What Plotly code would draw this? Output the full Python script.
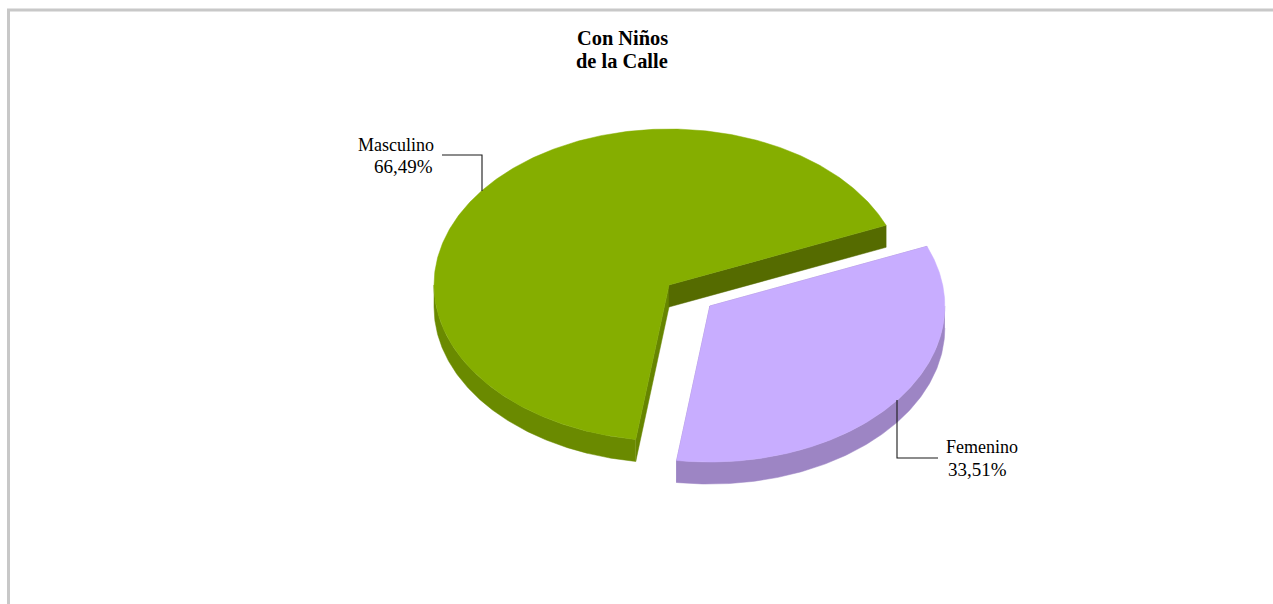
import numpy as np
import plotly.graph_objects as go

categories = ["Femenino", "Masculino"]
values = [33.51, 66.49]
labels = ["33,51%", "66,49%"]
exploded = [0.22, 0.0]
top_colors = ["#C8ADFF", "#85AE00"]
wall_colors = ["#9D85C4", "#6A8A00"]
end_cut_colors = ["#9D85C4", "#556B00"]
start_cut_colors = ["#9D85C4", "#668500"]
title_lines = ["Con Niños", "de la Calle"]

FIRST_ANGLE = 67.5
CX, CY, RX, RY, DEPTH = 669.0, 285.0, 235.0, 156.0, 22.0


def pt(theta, ox, oy, r=1.0):
    t = np.radians(theta)
    return ox + r * RX * np.sin(t), oy - r * RY * np.cos(t)


def poly(xs, ys, color):
    return go.Scatter(x=xs, y=ys, mode="lines", fill="toself", fillcolor=color,
                      line=dict(color=color, width=0.5), hoverinfo="skip", showlegend=False)


fig = go.Figure()
total = sum(values)
start = FIRST_ANGLE
slices = []
for i, v in enumerate(values):
    sweep = 360 * v / total
    mid = start + sweep / 2
    ox, oy = pt(mid, CX, CY, exploded[i])
    slices.append((i, start, start + sweep, ox, oy))
    start += sweep

# Masculino first, Femenino over it
for i, a0, a1, ox, oy in reversed(slices):
    ex, ey = pt(a0, ox, oy)
    fig.add_trace(poly([ox, ex, ex, ox, ox], [oy, ey, ey + DEPTH, oy + DEPTH, oy], start_cut_colors[i]))
    ex, ey = pt(a1, ox, oy)
    fig.add_trace(poly([ox, ex, ex, ox, ox], [oy, ey, ey + DEPTH, oy + DEPTH, oy], end_cut_colors[i]))
    lo, hi = max(a0, 90), min(a1, 270)
    if hi > lo:
        th = np.linspace(lo, hi, 160)
        x, y = pt(th, ox, oy)
        fig.add_trace(poly(np.r_[x, x[::-1]], np.r_[y, y[::-1] + DEPTH], wall_colors[i]))
    th = np.linspace(a0, a1, 400)
    x, y = pt(th, ox, oy)
    fig.add_trace(poly(np.r_[ox, x, ox], np.r_[oy, y, oy], top_colors[i]))

# leader lines
leader_color = "#1A1A1A"
fig.add_trace(go.Scatter(x=[897, 897, 938], y=[400, 458, 458], mode="lines",
                         line=dict(color=leader_color, width=1.1), hoverinfo="skip", showlegend=False))
fig.add_trace(go.Scatter(x=[442, 482, 482], y=[155, 155, 191], mode="lines",
                         line=dict(color=leader_color, width=1.1), hoverinfo="skip", showlegend=False))

font = "Liberation Serif"


def text(x, y, s, size, anchor="center"):
    fig.add_annotation(x=x, y=y, xref="x", yref="y", showarrow=False, xanchor=anchor, yanchor="middle",
                       text=s, font=dict(family=font, size=size, color="#000000"))


text(622, 38, f"<b>{title_lines[0]}</b>", 20.4)
text(622, 61, f"<b>{title_lines[1]}</b>", 20.4)
text(395.5, 145, categories[1], 18)
text(403, 166, labels[1], 19)
text(982, 447, categories[0], 18)
text(977, 469, labels[0], 19)

border = dict(type="line", xref="x", yref="y", line=dict(color="#C8C8C8", width=3))
fig.add_shape(x0=8.5, x1=8.5, y0=10, y1=604, **border)
fig.add_shape(x0=7, x1=1273, y0=10, y1=10, **border)

fig.update_layout(
    width=1273, height=604, margin=dict(l=0, r=0, t=0, b=0),
    paper_bgcolor="white", plot_bgcolor="white", showlegend=False,
    xaxis=dict(range=[0, 1273], visible=False, fixedrange=True),
    yaxis=dict(range=[604, 0], visible=False, fixedrange=True),
)
fig.write_html("out.html", config={"displayModeBar": False},
               post_script="document.body.style.margin='0';document.body.style.overflow='hidden';")
